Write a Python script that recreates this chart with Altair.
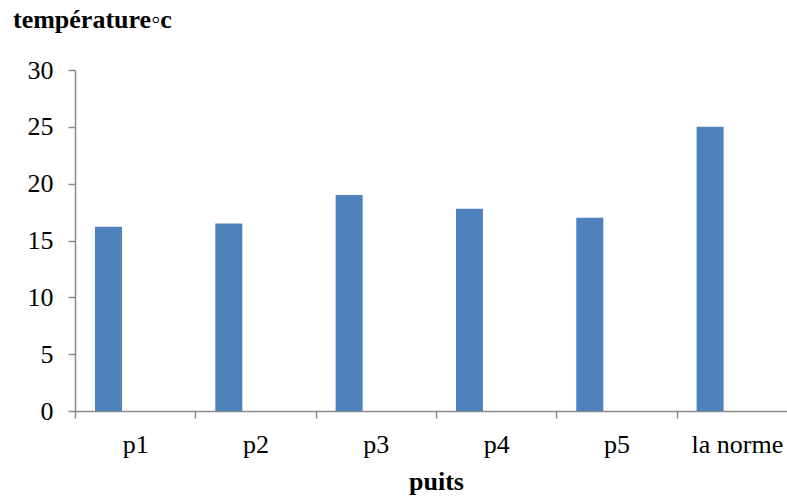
import altair as alt
import pandas as pd

# Water temperature per well, compared with the standard
puits = ["p1", "p2", "p3", "p4", "p5", "la norme"]
temperature = [16.2, 16.5, 19.0, 17.8, 17.0, 25.0]
y_ticks = [0, 5, 10, 15, 20, 25, 30]

df = pd.DataFrame({"puits": puits, "temperature": temperature})

FONT = "Liberation Serif"
AXIS_GREY = "#8a8a8a"
BAR_BLUE = "#4f81bd"

bars = (
    alt.Chart(df)
    .mark_bar(size=27, xOffset=-26.7, color=BAR_BLUE)
    .encode(
        x=alt.X(
            "puits:N",
            sort=puits,
            scale=alt.Scale(range=[0, 722], paddingInner=0, paddingOuter=0),
            axis=alt.Axis(
                title="puits",
                labelAngle=0,
                tickBand="extent",
                tickSize=7,
                labelPadding=13,
                titleY=78,
                titleBaseline="alphabetic",
            ),
        ),
        y=alt.Y(
            "temperature:Q",
            scale=alt.Scale(domain=[0, 30], nice=False),
            axis=alt.Axis(
                title=None,
                values=y_ticks,
                tickSize=7,
                labelPadding=15,
                grid=False,
            ),
        ),
    )
)

chart = (
    bars.properties(
        width=712,
        height=341,
        autosize=alt.AutoSizeParams(type="none"),
        padding={"left": 75, "top": 70, "right": 0, "bottom": 87},
        title=alt.TitleParams(
            "température◦c",
            anchor="start",
            frame="group",
            font=FONT,
            fontSize=26,
            fontWeight="bold",
            color="black",
            baseline="alphabetic",
            dx=-62,
            dy=1,
        ),
    )
    .configure_view(stroke=None)
    .configure_axis(
        domainColor=AXIS_GREY,
        tickColor=AXIS_GREY,
        domainWidth=1.5,
        tickWidth=1.5,
        labelFont=FONT,
        labelFontSize=26,
        labelColor="black",
        titleFont=FONT,
        titleFontSize=26,
        titleFontWeight="bold",
        titleColor="black",
    )
)

chart.save("out.html", embed_options={"renderer": "svg", "actions": False})
